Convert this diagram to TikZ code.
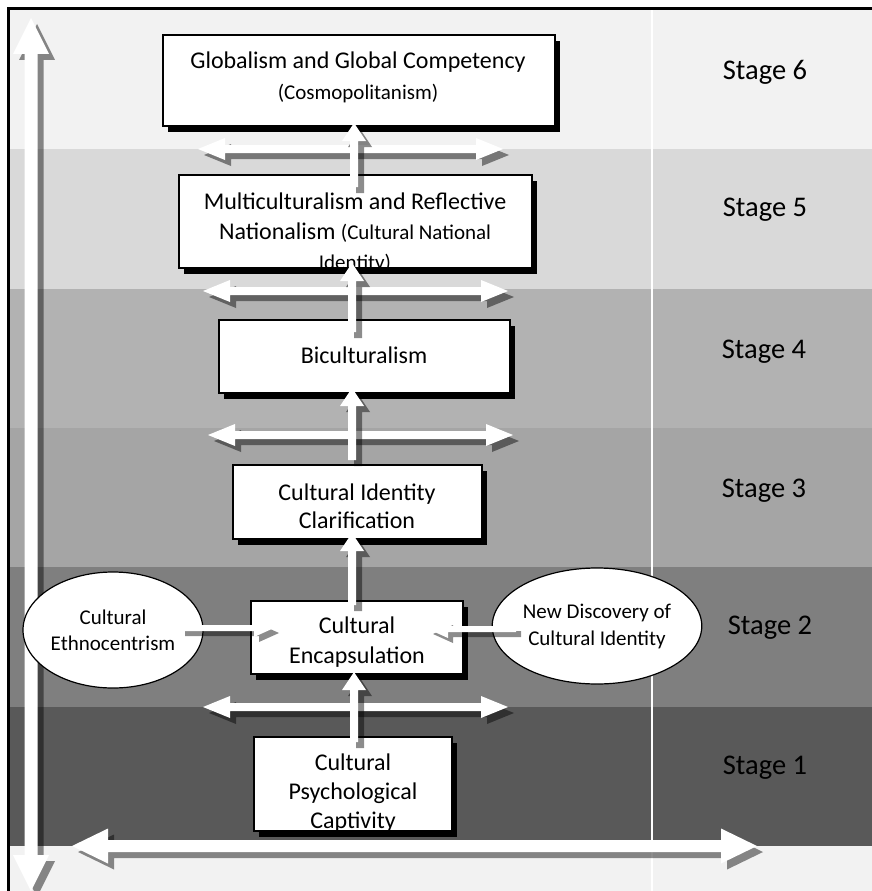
\documentclass[tikz,border=0pt]{standalone}
\usepackage{fontspec}
\setmainfont{Carlito}
\usetikzlibrary{calc,shapes.geometric,shadows}
\definecolor{bsix}{HTML}{F2F2F2}
\definecolor{bfive}{HTML}{D9D9D9}
\definecolor{bfour}{HTML}{B2B2B2}
\definecolor{bthree}{HTML}{A5A5A5}
\definecolor{btwo}{HTML}{7F7F7F}
\definecolor{bone}{HTML}{595959}

% single-headed block arrow: start, end, shaft half width, head half width, head length, shadow offset
\newcommand\sarrow[6]{%
  \fill[black, fill opacity=.45] let \p1=(#1), \p2=(#2), \n1={atan2(\y2-\y1,\x2-\x1)}, \n2={veclen(\x2-\x1,\y2-\y1)} in
    {[shift={(\x1+#6pt,\y1-#6pt)}, rotate=\n1] (0,-#3) -- ({\n2-#5},-#3) -- ({\n2-#5},-#4) -- (\n2,0) -- ({\n2-#5},#4) -- ({\n2-#5},#3) -- (0,#3) -- cycle};
  \fill[white] let \p1=(#1), \p2=(#2), \n1={atan2(\y2-\y1,\x2-\x1)}, \n2={veclen(\x2-\x1,\y2-\y1)} in
    {[shift={(\x1,\y1)}, rotate=\n1] (0,-#3) -- ({\n2-#5},-#3) -- ({\n2-#5},-#4) -- (\n2,0) -- ({\n2-#5},#4) -- ({\n2-#5},#3) -- (0,#3) -- cycle};
}
% double-headed block arrow
\newcommand\darrow[6]{%
  \fill[black, fill opacity=.45] let \p1=(#1), \p2=(#2), \n1={atan2(\y2-\y1,\x2-\x1)}, \n2={veclen(\x2-\x1,\y2-\y1)} in
    {[shift={(\x1+#6pt,\y1-#6pt)}, rotate=\n1] (0,0) -- (#5,-#4) -- (#5,-#3) -- ({\n2-#5},-#3) -- ({\n2-#5},-#4) -- (\n2,0) -- ({\n2-#5},#4) -- ({\n2-#5},#3) -- (#5,#3) -- (#5,#4) -- cycle};
  \fill[white] let \p1=(#1), \p2=(#2), \n1={atan2(\y2-\y1,\x2-\x1)}, \n2={veclen(\x2-\x1,\y2-\y1)} in
    {[shift={(\x1,\y1)}, rotate=\n1] (0,0) -- (#5,-#4) -- (#5,-#3) -- ({\n2-#5},-#3) -- ({\n2-#5},-#4) -- (\n2,0) -- ({\n2-#5},#4) -- ({\n2-#5},#3) -- (#5,#3) -- (#5,#4) -- cycle};
}

\begin{document}
\begin{tikzpicture}[x=1pt,y=-1pt,
  box/.style={draw=black, line width=1.4pt, fill=white, inner sep=0pt,
    general shadow={fill=black, shadow xshift=5pt, shadow yshift=-6pt}},
  txt/.style={align=center, inner sep=0pt, font=\fontsize{24}{30}\selectfont},
  oval/.style={ellipse, draw=black, line width=1.2pt, fill=white, inner sep=0pt,
    align=center, font=\fontsize{21}{26}\selectfont, minimum width=180pt, minimum height=116pt},
  stagelbl/.style={font=\fontsize{28.5}{34}\selectfont, inner sep=0pt}]

\useasboundingbox (0,0) rectangle (872,891);
\fill[white] (-10,-10) rectangle (890,910);

% stage bands
\fill[bsix]  (8,8)   rectangle (890,149);
\fill[bfive] (8,149) rectangle (890,289);
\fill[bfour] (8,289) rectangle (890,428);
\fill[bthree](8,428) rectangle (890,567);
\fill[btwo]  (8,567) rectangle (890,707);
\fill[bone]  (8,707) rectangle (890,846);
\fill[bsix]  (8,846) rectangle (890,910);

% divider and frame
\draw[white, line width=2pt] (652,8) -- (652,910);
\draw[black, line width=2.6pt] (8.5,910) -- (8.5,8.5) -- (890,8.5);

% big axis arrows
\coordinate (vbot) at (31,891);
\coordinate (vtop) at (31,18);
\darrow{vbot}{vtop}{6.5}{18}{36}{6}
\coordinate (hleft) at (72,846);
\coordinate (hright) at (757,846);
\darrow{hleft}{hright}{6}{17.5}{36}{6}

% stage labels
\node[stagelbl] (s6) at (765,72) {Stage 6};
\node[stagelbl] (s5) at (765,210) {Stage 5};
\node[stagelbl] (s4) at (764,352) {Stage 4};
\node[stagelbl] (s3) at (764,491) {Stage 3};
\node[stagelbl] (s2) at (770,628) {Stage 2};
\node[stagelbl] (s1) at (765,768) {Stage 1};

% horizontal stage arrows
\coordinate (h6l) at (198,149); \coordinate (h6r) at (503,149);
\coordinate (h5l) at (203,291); \coordinate (h5r) at (508,291);
\coordinate (h4l) at (208,435); \coordinate (h4r) at (513,435);
\coordinate (h2l) at (203,707); \coordinate (h2r) at (508,707);
\darrow{h6l}{h6r}{4}{11}{27}{6}
\darrow{h5l}{h5r}{4}{11}{27}{6}
\darrow{h4l}{h4r}{4}{11}{27}{6}
\darrow{h2l}{h2r}{4}{11}{27}{6}

% ellipses
\node[oval] (ethno) at (113,630) {Cultural\\Ethnocentrism};
\node[oval, font=\fontsize{21}{27}\selectfont] (disc) at (597,626) {New Discovery of\\Cultural Identity};

% boxes
\node[box, minimum width=392pt, minimum height=91pt] (glob) at (359,80.5) {};
\node[txt, font=\fontsize{24}{31}\selectfont] (globt) at (358,77.5) {Globalism and Global Competency\\{\fontsize{21}{31}\selectfont (Cosmopolitanism)}};

\node[box, minimum width=353pt, minimum height=93pt] (multi) at (355.5,221.5) {};
\begin{scope}
  \clip (multi.south west) rectangle (multi.north east);
  \node[txt] (multit) at (355,233) {Multiculturalism and Reflective\\Nationalism {\fontsize{21}{30}\selectfont (Cultural National}\\{\fontsize{21}{30}\selectfont Identity)}};
\end{scope}

\node[box, minimum width=291pt, minimum height=73pt] (bicult) at (364.5,356.5) {};
\node[txt] (bicultt) at (364,355) {Biculturalism};

\node[box, minimum width=249pt, minimum height=74pt] (clar) at (357.5,502) {};
\node[txt, font=\fontsize{24}{28}\selectfont] (clart) at (357,506) {Cultural Identity\\Clarification};

\node[box, minimum width=212pt, minimum height=73pt] (enc) at (357,637.5) {};
\node[txt] (enct) at (357,642) {Cultural\\Encapsulation};

\node[box, minimum width=198pt, minimum height=94pt] (cap) at (353,784) {};
\begin{scope}
  \clip (cap.south west) rectangle (cap.north east);
  \node[txt, font=\fontsize{24}{29}\selectfont] (capt) at (353,793) {Cultural\\Psychological\\Captivity};
\end{scope}

% upward arrows between stages
\coordinate (v1s) at (354,187); \coordinate (v1e) at (354,123);
\coordinate (v2s) at (352,332); \coordinate (v2e) at (352,263);
\coordinate (v3s) at (352,460); \coordinate (v3e) at (352,388);
\coordinate (v4s) at (352,605); \coordinate (v4e) at (352,533);
\coordinate (v5s) at (354,742); \coordinate (v5e) at (354,672);
\sarrow{v1s}{v1e}{4}{12}{18}{6}
\sarrow{v2s}{v2e}{4}{12}{18}{6}
\sarrow{v3s}{v3e}{4}{12}{18}{6}
\sarrow{v4s}{v4e}{4}{12}{18}{6}
\sarrow{v5s}{v5e}{4}{12}{18}{6}

% arrows from the ellipses into Cultural Encapsulation
\coordinate (e1s) at (180,628); \coordinate (e1e) at (274,628);
\coordinate (e2s) at (516,629); \coordinate (e2e) at (428,629);
\sarrow{e1s}{e1e}{3}{9}{20}{5}
\sarrow{e2s}{e2e}{3}{9}{20}{5}

\end{tikzpicture}
\end{document}
